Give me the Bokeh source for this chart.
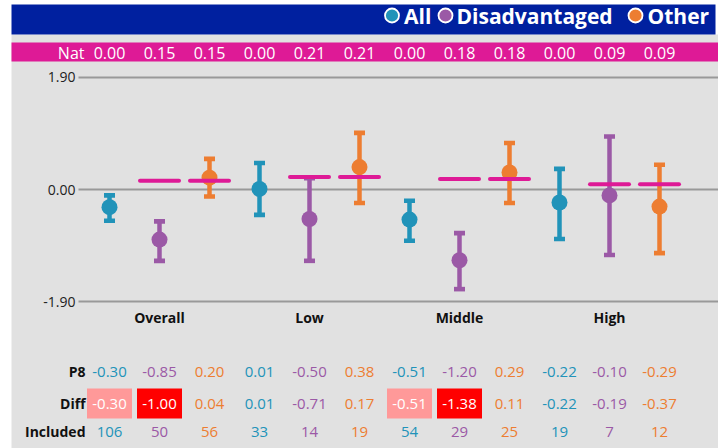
from bokeh.plotting import figure
from bokeh.models import Range1d
from bokeh.core.properties import value
from bokeh.embed import file_html
from bokeh.resources import INLINE

# ---------------- data ----------------
groups = ["Overall", "Low", "Middle", "High"]
series = ["All", "Disadvantaged", "Other"]
series_colors = ["#2193b9", "#9b59a6", "#ed7d31"]

p8 = [-0.30, -0.85, 0.20, 0.01, -0.50, 0.38, -0.51, -1.20, 0.29, -0.22, -0.10, -0.29]
ci_low = [-0.53, -1.21, -0.12, -0.43, -1.21, -0.23, -0.87, -1.69, -0.23, -0.84, -1.11, -1.08]
ci_high = [-0.10, -0.54, 0.52, 0.45, 0.19, 0.96, -0.19, -0.74, 0.79, 0.35, 0.90, 0.42]
nat = [0.00, 0.15, 0.15, 0.00, 0.21, 0.21, 0.00, 0.18, 0.18, 0.00, 0.09, 0.09]
diff = [-0.30, -1.00, 0.04, 0.01, -0.71, 0.17, -0.51, -1.38, 0.11, -0.22, -0.19, -0.37]
diff_sig = [1, 2, 0, 0, 0, 0, 1, 2, 0, 0, 0, 0]
included = [106, 50, 56, 33, 14, 19, 54, 29, 25, 19, 7, 12]
y_ticks = [-1.90, 0.00, 1.90]
row_labels = ["P8", "Diff", "Included"]

# ---------------- layout helpers ----------------
W, H = 718, 448
ORG_X, ORG_Y = 0, 0         # page position of the figure's top-left corner
X0, DX = 109.0, 50.0        # page x of first column, px per column
Y0, DY = 189.0, 58.95       # page y of zero, px per unit


def px(page_x):
    return (page_x - X0) / DX


def py(page_y):
    return (Y0 - page_y) / DY


p = figure(width=W, height=H, output_backend="svg", toolbar_location=None,
           x_range=Range1d(px(ORG_X), px(ORG_X + W)), y_range=Range1d(py(ORG_Y + H), py(ORG_Y)),
           min_border=0, outline_line_color=None, background_fill_color="white",
           border_fill_color="white")
p.axis.visible = False
p.grid.visible = False

font = value("Open Sans")
n = len(p8)
xs = list(range(n))
col_series = [i % 3 for i in xs]
colors = [series_colors[s] for s in col_series]

# backgrounds
p.quad(left=[px(11)], right=[px(720)], top=[py(34)], bottom=[py(450)],
       fill_color="#e1e1e1", line_color=None)
p.quad(left=[px(11)], right=[px(715)], top=[py(4)], bottom=[py(34)],
       fill_color="#00209f", line_color=None)
p.quad(left=[px(11)], right=[px(720)], top=[py(42)], bottom=[py(61)],
       fill_color="#de1a96", line_color=None)

# legend in the blue band
leg_circle_x = [391.5, 445, 635]
leg_text_x = [403.5, 456, 647]
p.scatter(x=[px(v) for v in leg_circle_x], y=[py(15)] * 3, size=14,
          fill_color=series_colors, line_color="white", line_width=1.8)
p.text(x=[px(v) for v in leg_text_x], y=[py(15.5)] * 3, text=series,
       text_font=font, text_font_style="bold", text_font_size="21px",
       text_color="white", text_align="left", text_baseline="middle")

# Nat row
p.text(x=[px(84)], y=[py(52)], text=["Nat"], text_font=font, text_font_size="16px",
       text_color="white", text_align="right", text_baseline="middle")
p.text(x=xs, y=[py(52)] * n, text=[f"{v:.2f}" for v in nat], text_font=font,
       text_font_size="16px", text_color="white", text_align="center",
       text_baseline="middle")

# grid lines and y tick labels
p.segment(x0=[px(78)] * len(y_ticks), x1=[px(720)] * len(y_ticks), y0=y_ticks, y1=y_ticks,
          line_color="#999999", line_width=2.2)
p.text(x=[px(75)] * len(y_ticks), y=y_ticks, text=[f"{v:.2f}" for v in y_ticks],
       text_font=font, text_font_size="14px", text_color="#222222",
       text_align="right", text_baseline="middle")

# error bars
p.segment(x0=xs, x1=xs, y0=ci_low, y1=ci_high, line_color=colors, line_width=4.5)
p.rect(x=xs + xs, y=ci_low + ci_high, width=11, height=4.6, width_units="screen",
       height_units="screen", fill_color=colors + colors, line_color=None)

# points
p.scatter(x=xs, y=p8, size=16, fill_color=colors, line_color=None)

# national average dashes (non-"All" columns)
dash_idx = [i for i in xs if col_series[i] != 0]
half = 19.5 / DX
p.segment(x0=[i - half for i in dash_idx], x1=[i + half for i in dash_idx],
          y0=[nat[i] for i in dash_idx], y1=[nat[i] for i in dash_idx],
          line_color="#de1a96", line_width=4, line_cap="round")

# group labels
p.text(x=[3 * g + 1 for g in range(len(groups))], y=[py(317)] * len(groups), text=groups,
       text_font=font, text_font_style="bold", text_font_size="14px", text_color="#111111",
       text_align="center", text_baseline="middle")

# table rows
row_y = [py(371), py(403), py(431)]
p.text(x=[px(85)] * 3, y=row_y, text=row_labels, text_font=font, text_font_style="bold",
       text_font_size="14px", text_color="#111111", text_align="right",
       text_baseline="middle")

sig_colors = {1: "#ff9999", 2: "#ff0000"}
box_idx = [i for i in xs if diff_sig[i] > 0]
p.rect(x=box_idx, y=[row_y[1]] * len(box_idx), width=45, height=30, width_units="screen",
       height_units="screen", fill_color=[sig_colors[diff_sig[i]] for i in box_idx],
       line_color=None)

diff_colors = [("white" if diff_sig[i] > 0 else colors[i]) for i in xs]
p.text(x=xs, y=[row_y[0]] * n, text=[f"{v:.2f}" for v in p8], text_font=font,
       text_font_size="15px", text_color=colors, text_align="center", text_baseline="middle")
p.text(x=xs, y=[row_y[1]] * n, text=[f"{v:.2f}" for v in diff], text_font=font,
       text_font_size="15px", text_color=diff_colors, text_align="center",
       text_baseline="middle")
p.text(x=xs, y=[row_y[2]] * n, text=[str(v) for v in included], text_font=font,
       text_font_size="15px", text_color=colors, text_align="center", text_baseline="middle")

open("out.html", "w").write(file_html(p, INLINE))
